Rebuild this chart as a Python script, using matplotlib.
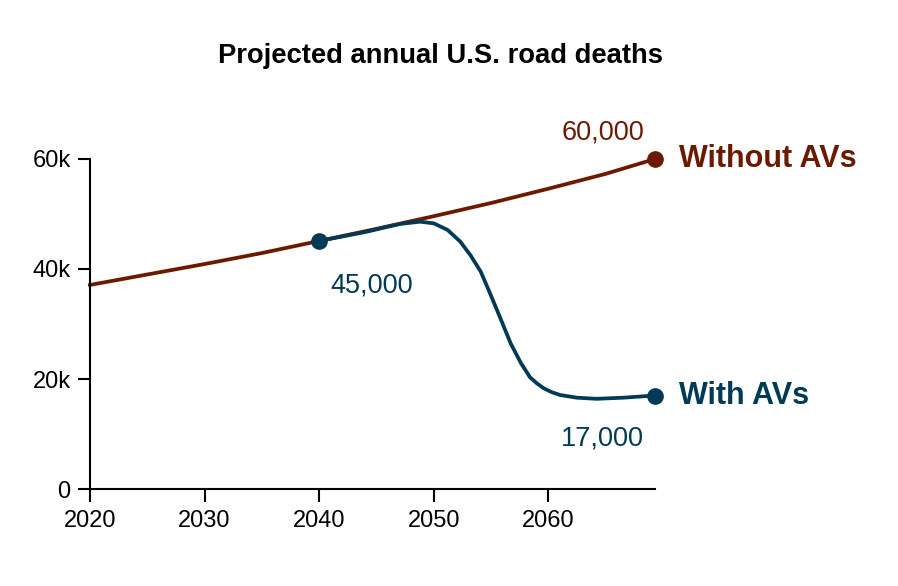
import matplotlib.pyplot as plt
from matplotlib.ticker import FuncFormatter

plt.rcParams['font.family'] = ['Liberation Sans', 'DejaVu Sans']

# values (deaths per year)
years_without = [2020, 2025, 2030, 2035, 2040, 2045, 2050, 2055, 2060, 2065, 2069.3]
deaths_without = [37100, 39000, 40900, 42900, 45100, 47300, 49600, 52000, 54600, 57300, 60000]

years_with = [2040, 2042, 2044.2, 2046, 2047.1, 2048.8, 2050.0, 2051.2, 2052.3, 2053.2,
              2054.1, 2054.9, 2055.7, 2056.7, 2057.6, 2058.4, 2059.0, 2059.6, 2060.3,
              2061.0, 2062.5, 2064.2, 2066.5, 2069.3]
deaths_with = [45100, 45900, 46800, 47700, 48200, 48600, 48300, 47100, 45000, 42500,
               39500, 35600, 31600, 26500, 22900, 20300, 19200, 18300, 17600,
               17100, 16600, 16400, 16600, 17000]

brown = '#6b1a00'
navy = '#003a55'

fig = plt.figure(figsize=(8.98, 5.86), dpi=100)
ax = fig.add_axes([0.1002, 0.1655, 0.6292, 0.5632])

ax.plot(years_without, deaths_without, color=brown, lw=2.7, solid_joinstyle='round', clip_on=False)
ax.plot(years_with, deaths_with, color=navy, lw=2.7, solid_joinstyle='round', clip_on=False)

# end / branch dots
ax.plot([years_without[-1]], [deaths_without[-1]], 'o', color=brown, ms=11, clip_on=False)
ax.plot([years_with[0]], [deaths_with[0]], 'o', color=navy, ms=11, clip_on=False)
ax.plot([years_with[-1]], [deaths_with[-1]], 'o', color=navy, ms=11, clip_on=False)

ax.set_xlim(2020, 2069.3)
ax.set_ylim(0, 60000)
ax.set_xticks([2020, 2030, 2040, 2050, 2060])
ax.set_yticks([0, 20000, 40000, 60000])
ax.yaxis.set_major_formatter(FuncFormatter(lambda v, p: '0' if v == 0 else f'{int(v/1000)}k'))

for s in ['top', 'right']:
    ax.spines[s].set_visible(False)
for s in ['left', 'bottom']:
    ax.spines[s].set_linewidth(1.5)
ax.tick_params(length=9, width=1.5, labelsize=17)
ax.tick_params(axis='y', pad=5)
ax.tick_params(axis='x', pad=6)

# annotations
ax.annotate('60,000', (years_without[-1], deaths_without[-1]), xytext=(-8, 19),
            textcoords='offset points', ha='right', va='center', fontsize=19.5, color=brown)
ax.annotate('45,000', (years_with[0], deaths_with[0]), xytext=(8, -32),
            textcoords='offset points', ha='left', va='center', fontsize=19.5, color=navy)
ax.annotate('17,000', (years_with[-1], deaths_with[-1]), xytext=(-8, -31),
            textcoords='offset points', ha='right', va='center', fontsize=19.5, color=navy)
ax.annotate('Without AVs', (years_without[-1], deaths_without[-1]), xytext=(17, 0),
            textcoords='offset points', ha='left', va='center', fontsize=22, fontweight='bold', color=brown)
ax.annotate('With AVs', (years_with[-1], deaths_with[-1]), xytext=(17, 0),
            textcoords='offset points', ha='left', va='center', fontsize=22, fontweight='bold', color=navy)

fig.text(440 / 898, 1 - 56 / 586, 'Projected annual U.S. road deaths', ha='center', va='center',
         fontsize=19.7, fontweight='bold')

fig.savefig('out.png', dpi=100)
